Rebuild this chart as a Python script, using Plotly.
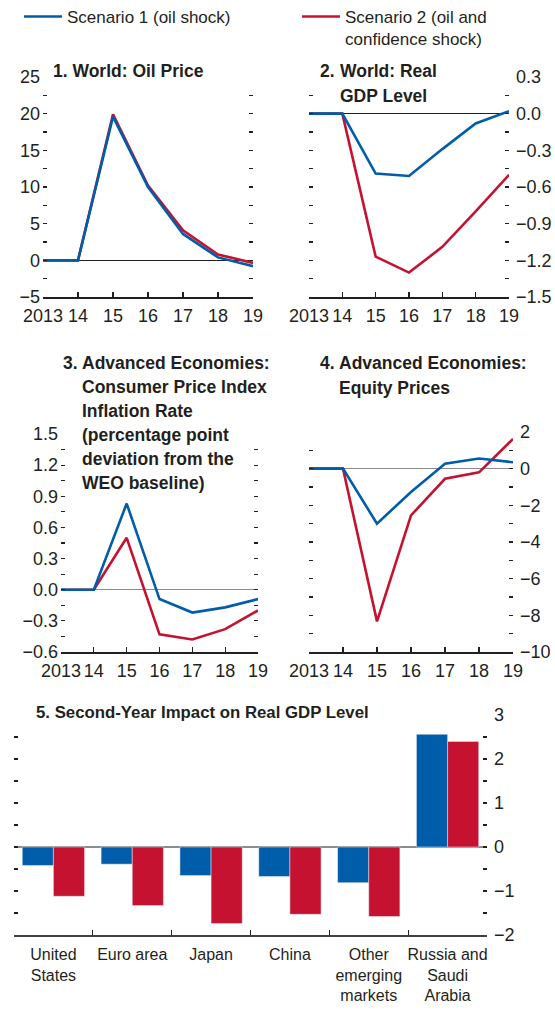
import plotly.graph_objects as go

W, H = 555, 1012

years = [2013, 2014, 2015, 2016, 2017, 2018, 2019]
year_labels = ["2013", "14", "15", "16", "17", "18", "19"]

oil_s1 = [0, 0, 19.6, 10.0, 3.6, 0.4, -0.8]
oil_s2 = [0, 0, 19.9, 10.2, 4.1, 0.8, -0.35]
gdp_s1 = [0, 0, -0.49, -0.51, -0.29, -0.08, 0.02]
gdp_s2 = [0, 0, -1.17, -1.30, -1.09, -0.80, -0.50]
cpi_s1 = [0, 0, 0.83, -0.09, -0.22, -0.17, -0.09]
cpi_s2 = [0, 0, 0.50, -0.43, -0.48, -0.38, -0.20]
eq_s1 = [0, 0, -3.0, -1.27, 0.27, 0.55, 0.35]
eq_s2 = [0, 0, -8.33, -2.55, -0.55, -0.20, 1.62]

regions = ["United<br>States", "Euro area", "Japan", "China",
           "Other<br>emerging<br>markets", "Russia and<br>Saudi<br>Arabia"]
bar_s1 = [-0.42, -0.39, -0.65, -0.67, -0.81, 2.56]
bar_s2 = [-1.12, -1.33, -1.74, -1.53, -1.58, 2.40]

oil_ticks = [-5, -2.5, 0, 2.5, 5, 7.5, 10, 12.5, 15, 17.5, 20, 22.5, 25]
oil_labels = ["−5", "", "0", "", "5", "", "10", "", "15", "", "20", "", "25"]
gdp_ticks = [-1.5, -1.35, -1.2, -1.05, -0.9, -0.75, -0.6, -0.45, -0.3, -0.15, 0, 0.15, 0.3]
gdp_labels = ["−1.5", "", "−1.2", "", "−0.9", "", "−0.6", "", "−0.3", "", "0.0", "", "0.3"]
cpi_ticks = [-0.6, -0.45, -0.3, -0.15, 0, 0.15, 0.3, 0.45, 0.6, 0.75, 0.9, 1.05, 1.2, 1.35, 1.5]
cpi_labels = ["−0.6", "", "−0.3", "", "0.0", "", "0.3", "", "0.6", "", "0.9", "", "1.2", "", "1.5"]
eq_ticks = [-10, -9, -8, -7, -6, -5, -4, -3, -2, -1, 0, 1, 2]
eq_labels = ["−10", "", "−8", "", "−6", "", "−4", "", "−2", "", "0", "", "2"]
bar_ticks = [-2, -1.5, -1, -0.5, 0, 0.5, 1, 1.5, 2, 2.5, 3]
bar_labels = ["−2", "", "−1", "", "0", "", "1", "", "2", "", "3"]

BLUE = "#005DAA"
RED = "#C41230"
INK = "#231F20"
FONT = "Liberation Sans, Arial, sans-serif"


def px_x(a):
    return a / W


def px_y(b):
    return 1 - b / H


def dx(a, b):
    return [px_x(a), px_x(b)]


def dy(top, bottom):
    return [px_y(bottom), px_y(top)]


fig = go.Figure()

line_panels = [
    ("x", "y", oil_s1, oil_s2),
    ("x2", "y2", gdp_s1, gdp_s2),
    ("x3", "y3", cpi_s1, cpi_s2),
    ("x4", "y4", eq_s1, eq_s2),
]
for i, (xa, ya, s1, s2) in enumerate(line_panels):
    fig.add_trace(go.Scatter(x=years, y=s2, xaxis=xa, yaxis=ya, mode="lines",
                             line=dict(color=RED, width=2.6),
                             name="Scenario 2 (oil and<br>confidence shock)",
                             legend="legend2", showlegend=(i == 0)))
    fig.add_trace(go.Scatter(x=years, y=s1, xaxis=xa, yaxis=ya, mode="lines",
                             line=dict(color=BLUE, width=2.6),
                             name="Scenario 1 (oil shock)",
                             legend="legend", showlegend=(i == 0)))

fig.add_trace(go.Bar(x=regions, y=bar_s1, xaxis="x5", yaxis="y5", marker_color=BLUE,
                     name="Scenario 1 (oil shock)", showlegend=False))
fig.add_trace(go.Bar(x=regions, y=bar_s2, xaxis="x5", yaxis="y5", marker_color=RED,
                     name="Scenario 2", showlegend=False))

tickfont = dict(family=FONT, size=18, color=INK)


def xaxis_line(domain, anchor):
    return dict(domain=domain, anchor=anchor, range=[2013, 2019],
                tickvals=years, ticktext=year_labels, ticks="inside", ticklen=5,
                tickcolor=INK, tickwidth=1.3, showline=True, linecolor=INK, linewidth=1.5,
                showgrid=False, zeroline=False, tickfont=tickfont, tickangle=0,
                ticklabelstandoff=2, automargin=False, fixedrange=True)


def yaxis_line(domain, anchor, rng, tv, tt, side, zcolor):
    return dict(domain=domain, anchor=anchor, range=rng, tickvals=tv, ticktext=tt,
                ticks="inside", ticklen=4, tickcolor=INK, tickwidth=1.2, mirror="ticks",
                showline=False, showgrid=False, zeroline=True, zerolinecolor=zcolor,
                zerolinewidth=1.2, side=side, tickfont=tickfont, automargin=False,
                ticklabelstandoff=(2 if side == "left" else 6), fixedrange=True)


legend_font = dict(family=FONT, size=17, color=INK)
layout = dict(
    width=W, height=H, margin=dict(l=0, r=0, t=0, b=0, autoexpand=False),
    paper_bgcolor="white", plot_bgcolor="rgba(0,0,0,0)",
    barmode="group", bargap=0.21, bargroupgap=0,
    showlegend=True,
    legend=dict(x=px_x(19), y=px_y(-1), xanchor="left", yanchor="top", valign="top",
                font=legend_font, bgcolor="rgba(0,0,0,0)", itemwidth=38),
    legend2=dict(x=px_x(297), y=px_y(-1), xanchor="left", yanchor="top", valign="top",
                 font=legend_font, bgcolor="rgba(0,0,0,0)", itemwidth=38),
    xaxis=xaxis_line(dx(43, 253), "y"),
    yaxis=yaxis_line(dy(77, 297), "x", [-5, 25], oil_ticks, oil_labels, "left", INK),
    xaxis2=xaxis_line(dx(309, 509), "y2"),
    yaxis2=yaxis_line(dy(77, 297), "x2", [-1.5, 0.3], gdp_ticks, gdp_labels, "right", INK),
    xaxis3=xaxis_line(dx(61, 258), "y3"),
    yaxis3=yaxis_line(dy(434, 652), "x3", [-0.6, 1.5], cpi_ticks, cpi_labels, "left", "#8C8C8C"),
    xaxis4=xaxis_line(dx(309, 513), "y4"),
    yaxis4=yaxis_line(dy(432, 652), "x4", [-10, 2], eq_ticks, eq_labels, "right", "#8C8C8C"),
    xaxis5=dict(domain=dx(14, 487), anchor="y5", type="category", tickson="boundaries",
                ticks="inside", ticklen=5, tickcolor=INK, tickwidth=1.3, showline=True,
                linecolor="#404040", linewidth=1.5, showgrid=False, zeroline=False,
                tickangle=0, automargin=False, ticklabelstandoff=4,
                tickfont=dict(family=FONT, size=16, color=INK), fixedrange=True),
    yaxis5=yaxis_line(dy(715, 935), "x5", [-2, 3], bar_ticks, bar_labels, "right", "#8C8C8C"),
)

titles = [
    ("1. World: Oil Price", 53, 63, 17.5),
    ("2.", 320, 63, 17.5), ("World: Real", 340, 63, 17.5), ("GDP Level", 340, 88, 17.5),
    ("3.", 63, 355, 17.5),
    ("Advanced Economies:", 82, 355, 17.5),
    ("Consumer Price Index", 82, 379, 17.5),
    ("Inflation Rate", 82, 403, 17.5),
    ("(percentage point", 82, 427, 17.5),
    ("deviation from the", 82, 451, 17.5),
    ("WEO baseline)", 82, 475, 17.5),
    ("4.", 320, 355, 17.5), ("Advanced Economies:", 339, 355, 17.5),
    ("Equity Prices", 339, 380, 17.5),
    ("5. Second-Year Impact on Real GDP Level", 36, 705, 16.8),
]
annotations = []
for text, xp, yp, fs in titles:
    annotations.append(dict(text=text, xref="paper", yref="paper", x=px_x(xp - 2), y=px_y(yp - 4),
                            xanchor="left", yanchor="top", align="left", showarrow=False,
                            font=dict(family=FONT, size=fs, color=INK, weight="bold")))
layout["annotations"] = annotations

fig.update_layout(**layout)
# remove the default 8px page margin so the figure fills the window exactly
fig.write_html("out.html", config={"displayModeBar": False, "staticPlot": True},
               post_script="document.body.style.margin='0';")
